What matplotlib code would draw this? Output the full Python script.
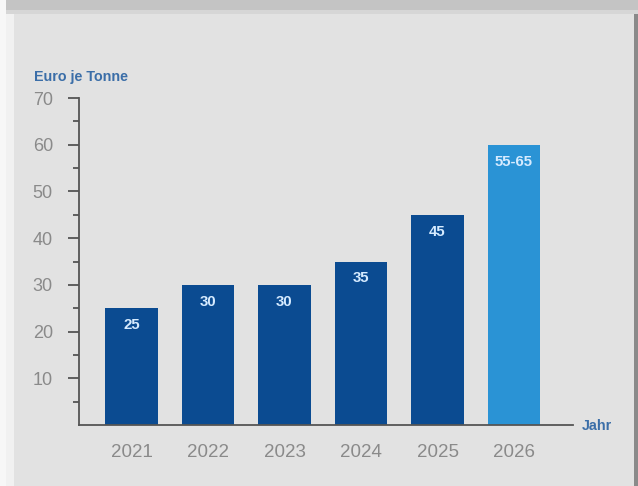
import matplotlib
matplotlib.use("Agg")
import matplotlib.pyplot as plt
from matplotlib.patches import Rectangle
from matplotlib.ticker import FixedLocator

years = ["2021", "2022", "2023", "2024", "2025", "2026"]
values = [25, 30, 30, 35, 45, 60]
labels = ["25", "30", "30", "35", "45", "55-65"]
colors = ["#0b4b91", "#0b4b91", "#0b4b91", "#0b4b91", "#0b4b91", "#2a93d5"]
yticks = [10, 20, 30, 40, 50, 60, 70]
yminor = [5, 15, 25, 35, 45, 55, 65]

plt.rcParams['font.family'] = ['Liberation Sans', 'DejaVu Sans']

W, H = 638, 486
fig = plt.figure(figsize=(W / 100, H / 100), dpi=100)
fig.patch.set_facecolor("#e2e2e2")

def frect(x0, y0, x1, y1, color):
    # pixel coords (top-left origin) -> figure fraction
    fig.patches.append(Rectangle((x0 / W, 1 - y1 / H), (x1 - x0) / W, (y1 - y0) / H,
                                 transform=fig.transFigure, facecolor=color,
                                 edgecolor="none", zorder=-10))

# screenshot frame
frect(0, 0, 14, H, "#f1f1f1")
frect(0, 0, W, 10, "#c4c4c4")
frect(0, 10, W, 14, "#d6d6d6")
frect(0, 0, 6, H, "#f7f7f7")
frect(634, 14, W, H, "#8a8a8a")

ax = fig.add_axes([79.3 / W, 1 - 425 / H, (572.7 - 79.3) / W, (425 - 98) / H])
ax.set_facecolor("none")

x = list(range(len(years)))
bars = ax.bar(x, values, width=0.686, color=colors, zorder=2)
for rect, lab in zip(bars, labels):
    ax.annotate(lab, (rect.get_x() + rect.get_width() / 2, rect.get_height()),
                xytext=(0, -17), textcoords="offset pixels",
                ha="center", va="center", fontsize=10.8, fontweight="bold",
                color="#d6ebff", zorder=3)

ax.set_xlim(-0.682, 5.767)
ax.set_ylim(0, 70)
ax.set_xticks(x)
ax.set_xticklabels(years)
ax.set_yticks(yticks)
ax.set_yticklabels([str(v) for v in yticks])
ax.yaxis.set_minor_locator(FixedLocator(yminor))

for s in ["top", "right"]:
    ax.spines[s].set_visible(False)
for s in ["left", "bottom"]:
    ax.spines[s].set_color("#555555")
    ax.spines[s].set_linewidth(1.3)

ax.tick_params(axis="y", which="major", length=8, width=1.3, color="#555555",
               labelsize=13, labelcolor="#8a8a8a", pad=11)
ax.tick_params(axis="y", which="minor", length=4.5, width=1.3, color="#555555")
ax.tick_params(axis="x", which="both", length=0, labelsize=13.5,
               labelcolor="#8a8a8a", pad=14)

fig.text(34 / W, 1 - 77 / H, "Euro je Tonne", fontsize=10.3, fontweight="bold",
         color="#3b6ea8", ha="left", va="center")
fig.text(582 / W, 1 - 425.5 / H, "Jahr", fontsize=10.3, fontweight="bold",
         color="#3b6ea8", ha="left", va="center")

fig.savefig("out.png", dpi=100, facecolor=fig.get_facecolor())
